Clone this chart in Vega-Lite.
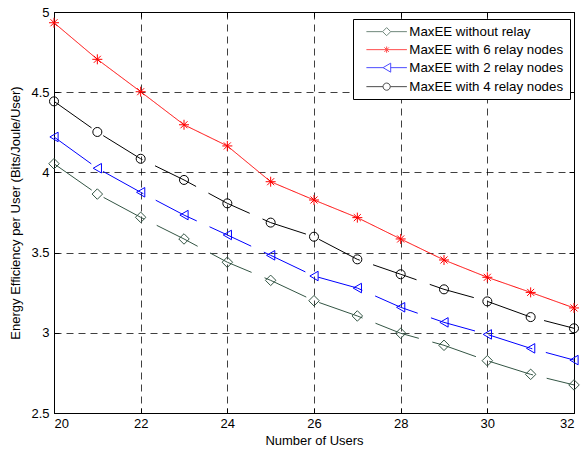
{
  "$schema": "https://vega.github.io/schema/vega-lite/v6.json",
  "width": 520,
  "height": 401,
  "autosize": "none",
  "padding": {"left": 54, "top": 12, "right": 7, "bottom": 37},
  "background": "white",
  "config": {
    "view": {"stroke": "black", "strokeWidth": 1},
    "font": "Liberation Sans",
    "axis": {"labelFont": "Liberation Sans", "titleFont": "Liberation Sans", "labelColor": "black", "titleColor": "black", "labelFontSize": 13, "titleFontSize": 13, "titleFontWeight": "normal", "domain": false, "tickColor": "black", "tickSize": -5, "tickWidth": 1},
    "legend": {"orient": "none", "legendX": 299, "legendY": 7, "strokeColor": "black", "fillColor": "white", "padding": 6,
      "labelFont": "Liberation Sans", "labelFontSize": 13.3, "labelColor": "black", "labelOffset": 16, "symbolOffset": 21, "symbolSize": 81, "rowPadding": 4, "symbolStrokeWidth": 1}
  },
  "data": {"values": [
    {"x": 20, "y": 4.054, "s": "MaxEE without relay"},
    {"x": 21, "y": 3.865, "s": "MaxEE without relay"},
    {"x": 22, "y": 3.72, "s": "MaxEE without relay"},
    {"x": 23, "y": 3.585, "s": "MaxEE without relay"},
    {"x": 24, "y": 3.44, "s": "MaxEE without relay"},
    {"x": 25, "y": 3.327, "s": "MaxEE without relay"},
    {"x": 26, "y": 3.2, "s": "MaxEE without relay"},
    {"x": 27, "y": 3.105, "s": "MaxEE without relay"},
    {"x": 28, "y": 2.997, "s": "MaxEE without relay"},
    {"x": 29, "y": 2.922, "s": "MaxEE without relay"},
    {"x": 30, "y": 2.826, "s": "MaxEE without relay"},
    {"x": 31, "y": 2.741, "s": "MaxEE without relay"},
    {"x": 32, "y": 2.675, "s": "MaxEE without relay"},
    {"x": 20, "y": 4.933, "s": "MaxEE with 6 relay nodes"},
    {"x": 21, "y": 4.705, "s": "MaxEE with 6 relay nodes"},
    {"x": 22, "y": 4.503, "s": "MaxEE with 6 relay nodes"},
    {"x": 23, "y": 4.297, "s": "MaxEE with 6 relay nodes"},
    {"x": 24, "y": 4.165, "s": "MaxEE with 6 relay nodes"},
    {"x": 25, "y": 3.942, "s": "MaxEE with 6 relay nodes"},
    {"x": 26, "y": 3.828, "s": "MaxEE with 6 relay nodes"},
    {"x": 27, "y": 3.718, "s": "MaxEE with 6 relay nodes"},
    {"x": 28, "y": 3.585, "s": "MaxEE with 6 relay nodes"},
    {"x": 29, "y": 3.454, "s": "MaxEE with 6 relay nodes"},
    {"x": 30, "y": 3.346, "s": "MaxEE with 6 relay nodes"},
    {"x": 31, "y": 3.252, "s": "MaxEE with 6 relay nodes"},
    {"x": 32, "y": 3.155, "s": "MaxEE with 6 relay nodes"},
    {"x": 20, "y": 4.221, "s": "MaxEE with 2 relay nodes"},
    {"x": 21, "y": 4.026, "s": "MaxEE with 2 relay nodes"},
    {"x": 22, "y": 3.876, "s": "MaxEE with 2 relay nodes"},
    {"x": 23, "y": 3.734, "s": "MaxEE with 2 relay nodes"},
    {"x": 24, "y": 3.61, "s": "MaxEE with 2 relay nodes"},
    {"x": 25, "y": 3.483, "s": "MaxEE with 2 relay nodes"},
    {"x": 26, "y": 3.354, "s": "MaxEE with 2 relay nodes"},
    {"x": 27, "y": 3.279, "s": "MaxEE with 2 relay nodes"},
    {"x": 28, "y": 3.159, "s": "MaxEE with 2 relay nodes"},
    {"x": 29, "y": 3.065, "s": "MaxEE with 2 relay nodes"},
    {"x": 30, "y": 2.99, "s": "MaxEE with 2 relay nodes"},
    {"x": 31, "y": 2.903, "s": "MaxEE with 2 relay nodes"},
    {"x": 32, "y": 2.83, "s": "MaxEE with 2 relay nodes"},
    {"x": 20, "y": 4.443, "s": "MaxEE with 4 relay nodes"},
    {"x": 21, "y": 4.252, "s": "MaxEE with 4 relay nodes"},
    {"x": 22, "y": 4.085, "s": "MaxEE with 4 relay nodes"},
    {"x": 23, "y": 3.953, "s": "MaxEE with 4 relay nodes"},
    {"x": 24, "y": 3.807, "s": "MaxEE with 4 relay nodes"},
    {"x": 25, "y": 3.687, "s": "MaxEE with 4 relay nodes"},
    {"x": 26, "y": 3.599, "s": "MaxEE with 4 relay nodes"},
    {"x": 27, "y": 3.458, "s": "MaxEE with 4 relay nodes"},
    {"x": 28, "y": 3.365, "s": "MaxEE with 4 relay nodes"},
    {"x": 29, "y": 3.271, "s": "MaxEE with 4 relay nodes"},
    {"x": 30, "y": 3.196, "s": "MaxEE with 4 relay nodes"},
    {"x": 31, "y": 3.098, "s": "MaxEE with 4 relay nodes"},
    {"x": 32, "y": 3.028, "s": "MaxEE with 4 relay nodes"}
  ]},
  "resolve": {"axis": {"x": "independent", "y": "independent"}, "scale": {"shape": "independent", "color": "independent"}},
  "layer": [
    {
      "mark": {"type": "line", "strokeWidth": 1, "clip": true},
      "encoding": {
        "x": {"field": "x", "type": "quantitative", "scale": {"domain": [20, 32], "nice": false, "zero": false},
          "axis": {"orient": "bottom", "values": [20, 22, 24, 26, 28, 30, 32], "format": "d", "title": "Number of Users", "labelPadding": 9, "titlePadding": 4, "grid": true, "gridColor": "black", "gridDash": [7, 5], "gridOpacity": 0.75, "gridWidth": 1}},
        "y": {"field": "y", "type": "quantitative", "scale": {"domain": [2.5, 5], "nice": false, "zero": false},
          "axis": {"orient": "left", "values": [2.5, 3, 3.5, 4, 4.5, 5], "format": "~g", "title": "Energy Efficiency per User (Bits/Joule/User)", "labelPadding": 10, "titlePadding": 8, "grid": true, "gridColor": "black", "gridDash": [7, 5], "gridOpacity": 0.75, "gridWidth": 1}},
        "color": {"field": "s", "type": "nominal",
          "scale": {"domain": ["MaxEE without relay", "MaxEE with 6 relay nodes", "MaxEE with 2 relay nodes", "MaxEE with 4 relay nodes"], "range": ["#335544", "#ff0000", "#0000ff", "#000000"]},
          "legend": null},
        "strokeDash": {"field": "s", "type": "nominal",
          "scale": {"domain": ["MaxEE without relay", "MaxEE with 6 relay nodes", "MaxEE with 2 relay nodes", "MaxEE with 4 relay nodes"], "range": [[46, 14], [1, 0], [46, 14], [46, 14]]},
          "legend": null}
      }
    },
    {
      "mark": {"type": "point", "filled": false, "strokeWidth": 1, "opacity": 1},
      "encoding": {
        "x": {"field": "x", "type": "quantitative",
          "axis": {"orient": "top", "values": [20, 22, 24, 26, 28, 30, 32], "labels": false, "title": null, "grid": false}},
        "y": {"field": "y", "type": "quantitative",
          "axis": {"orient": "right", "values": [2.5, 3, 3.5, 4, 4.5, 5], "labels": false, "title": null, "grid": false}},
        "color": {"field": "s", "type": "nominal",
          "scale": {"domain": ["MaxEE without relay", "MaxEE with 6 relay nodes", "MaxEE with 2 relay nodes", "MaxEE with 4 relay nodes"], "range": ["#335544", "#ff0000", "#0000ff", "#000000"]},
          "legend": null},
        "shape": {"field": "s", "type": "nominal",
          "scale": {"domain": ["MaxEE without relay", "MaxEE with 6 relay nodes", "MaxEE with 2 relay nodes", "MaxEE with 4 relay nodes"], "range": ["diamond", "M-1,0H1M0,-1V1M-0.7,-0.7L0.7,0.7M-0.7,0.7L0.7,-0.7", "triangle-left", "circle"]},
          "legend": null},
        "size": {"field": "s", "type": "nominal",
          "scale": {"domain": ["MaxEE without relay", "MaxEE with 6 relay nodes", "MaxEE with 2 relay nodes", "MaxEE with 4 relay nodes"], "range": [110, 81, 120, 81]},
          "legend": null}
      }
    },
    {
      "transform": [{"filter": "datum.x > 100"}],
      "mark": {"type": "point", "filled": false, "strokeWidth": 1, "size": 81},
      "encoding": {
        "x": {"field": "x", "type": "quantitative", "axis": null},
        "y": {"field": "y", "type": "quantitative", "axis": null},
        "color": {"field": "s", "type": "nominal", "title": null,
          "scale": {"domain": ["MaxEE without relay", "MaxEE with 6 relay nodes", "MaxEE with 2 relay nodes", "MaxEE with 4 relay nodes"], "range": ["#335544", "#ff0000", "#0000ff", "#000000"]}},
        "shape": {"field": "s", "type": "nominal", "title": null,
          "scale": {"domain": ["MaxEE without relay", "MaxEE with 6 relay nodes", "MaxEE with 2 relay nodes", "MaxEE with 4 relay nodes"], "range": [
            "M-4.5,0H-0.9M0.9,0H4.5M0,-0.9L0.9,0L0,0.9L-0.9,0Z",
            "M-4.5,0H4.5M0,-0.7V0.7M-0.5,-0.5L0.5,0.5M-0.5,0.5L0.5,-0.5",
            "M-4.5,0H-0.8M0.9,0H4.5M-0.8,0L0.9,-1L0.9,1Z",
            "M-4.5,0H-0.8M0.8,0H4.5M-0.8,0A0.8,0.8 0 1,0 0.8,0A0.8,0.8 0 1,0 -0.8,0"]}}
      }
    }
  ]
}
